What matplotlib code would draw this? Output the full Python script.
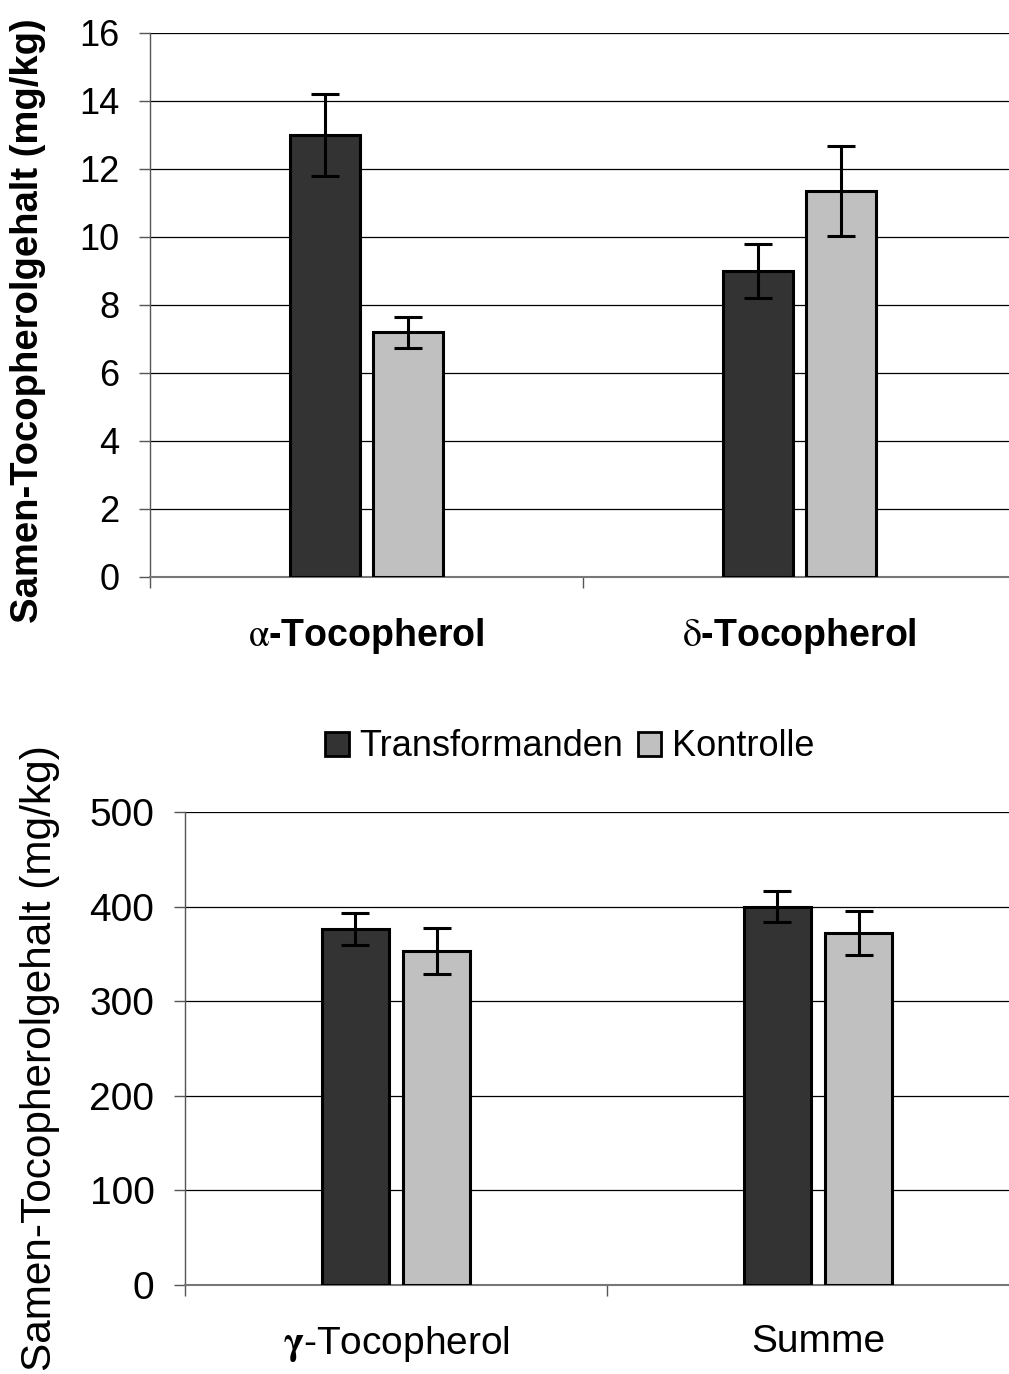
import numpy as np
import matplotlib.pyplot as plt
from matplotlib.patches import Patch

plt.rcParams['font.family'] = ['Liberation Sans', 'DejaVu Sans']
plt.rcParams['mathtext.fontset'] = 'stix'

# --- data ---
series = ['Transformanden', 'Kontrolle']
colors = ['#333333', '#c0c0c0']

top_cats = [r'$\mathrm{\alpha}$-Tocopherol', r'$\mathrm{\delta}$-Tocopherol']
top_trans = [13.0, 9.0]
top_trans_err = [1.2, 0.8]
top_ctrl = [7.2, 11.35]
top_ctrl_err = [0.45, 1.32]

bot_cats = [r'$\mathbf{\gamma}$-Tocopherol', 'Summe']
bot_trans = [376, 400]
bot_trans_err = [17, 16]
bot_ctrl = [353, 372]
bot_ctrl_err = [24, 23]

fig = plt.figure(figsize=(10.09, 13.74), dpi=100)


def draw(ax, cats, v1, e1, v2, e2, ymax, ystep, tick_fs, lab_fs, lab_weight, lab_pad):
    x = np.arange(len(cats))
    w = 0.16
    off = 0.096
    for xs, vals, errs, c in [(x - off, v1, e1, colors[0]), (x + off, v2, e2, colors[1])]:
        ax.bar(xs, vals, width=w, color=c, edgecolor='black', linewidth=2.2, zorder=3)
        ax.errorbar(xs, vals, yerr=errs, fmt='none', ecolor='black',
                    elinewidth=2.2, capsize=10, capthick=2.2, zorder=4)
    ax.set_xlim(-0.5, len(cats) - 0.5)
    ax.set_ylim(0, ymax)
    ax.set_yticks(np.arange(0, ymax + ystep / 2, ystep))
    ax.yaxis.grid(True, color='black', linewidth=0.9, zorder=0)
    ax.set_axisbelow(True)
    for s in ['top', 'right']:
        ax.spines[s].set_visible(False)
    ax.spines['left'].set_color('#555555')
    ax.spines['bottom'].set_color('#777777')
    ax.spines['left'].set_linewidth(1.0)
    ax.spines['bottom'].set_linewidth(1.5)
    ax.tick_params(axis='y', direction='out', length=8, width=1, color='#555555',
                   labelsize=tick_fs, pad=14)
    ax.set_xticks(x)
    ax.set_xticklabels(cats, fontsize=lab_fs, fontweight=lab_weight)
    ax.tick_params(axis='x', which='major', length=0, pad=lab_pad)
    ax.set_xticks(np.arange(-0.5, len(cats), 1.0), minor=True)
    ax.tick_params(axis='x', which='minor', direction='out', length=8, width=1, color='#555555')


ax1 = fig.add_axes([150 / 1009, 1 - 577 / 1374, 866 / 1009, 544 / 1374])
draw(ax1, top_cats, top_trans, top_trans_err, top_ctrl, top_ctrl_err,
     16, 2, 26, 27, 'bold', 28)

ax2 = fig.add_axes([185 / 1009, 1 - 1285 / 1374, 844 / 1009, 473 / 1374])
draw(ax2, bot_cats, bot_trans, bot_trans_err, bot_ctrl, bot_ctrl_err,
     500, 100, 28, 28, 'normal', 28)

fig.text(28 / 1009, 1 - 321 / 1374, 'Samen-Tocopherolgehalt (mg/kg)', rotation=90,
         ha='center', va='center', fontsize=27.5, fontweight='bold')
fig.text(40 / 1009, 1 - 1058 / 1374, 'Samen-Tocopherolgehalt (mg/kg)', rotation=90,
         ha='center', va='center', fontsize=30.5)

handles = [Patch(facecolor=c, edgecolor='black', linewidth=2) for c in colors]
fig.legend(handles, series, loc='center', bbox_to_anchor=(570 / 1009, 1 - 747 / 1374),
           ncol=2, frameon=False, prop={'size': 26},
           handlelength=0.65, handleheight=0.65, handletextpad=0.3, columnspacing=0.4)

fig.savefig('out.png', dpi=100)
